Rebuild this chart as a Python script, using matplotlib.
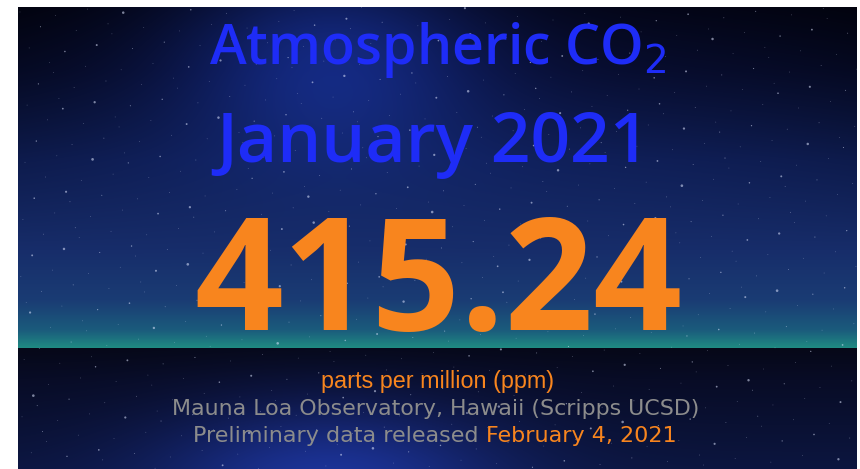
import numpy as np
import matplotlib
matplotlib.use("Agg")
import matplotlib.pyplot as plt
from matplotlib.colors import to_rgb

# ---- content ----
title_line1 = "Atmospheric CO$_2$"
title_line2 = "January 2021"
co2_value = "415.24"
unit_label = "parts per million (ppm)"
source_label = "Mauna Loa Observatory, Hawaii (Scripps UCSD)"
release_prefix = "Preliminary data released "
release_date = "February 4, 2021"

W, H = 860, 469
fig = plt.figure(figsize=(W / 100, H / 100), dpi=100, facecolor="white")
ax = fig.add_axes([0, 0, 1, 1])
ax.set_xlim(0, W)
ax.set_ylim(H, 0)
ax.axis("off")

# ---- background (decorative night sky) ----
x0, x1, y0, y1 = 18, 857, 7, 469
horizon = 348
bw, bh = x1 - x0, y1 - y0
yy, xx = np.mgrid[y0:y1, x0:x1].astype(float)

def grad(vals, stops, cols):
    cols = np.array([to_rgb(c) for c in cols])
    out = np.zeros(vals.shape + (3,))
    for k in range(3):
        out[..., k] = np.interp(vals, stops, cols[:, k])
    return out

sky = grad(yy, [7, 70, 160, 250, 300, 330, 347],
           ["#04061a", "#080e32", "#10205a", "#172d6a", "#1a3c74", "#1b5c7c", "#1f8a82"])
edge = np.clip(np.abs(xx - 430) / 430, 0, 1)
dark = (1 - 0.45 * edge ** 2 * np.clip((250 - yy) / 250, 0, 1))[..., None]
sky = sky * dark
glow = np.exp(-(((xx - 330) / 150) ** 2 + ((yy - 50) / 100) ** 2))[..., None]
sky = sky + glow * np.array(to_rgb("#1a3aa8")) * 0.5

ground = grad(yy, [348, 380, 469], ["#060818", "#080c26", "#0c1640"])
gglow = np.exp(-(((xx - 330) / 170) ** 2 + ((yy - 475) / 75) ** 2))[..., None]
ground = ground + gglow * np.array(to_rgb("#1a3090")) * 0.6

bg = np.where((yy < horizon)[..., None], sky, ground)
bg = np.clip(bg, 0, 1)
ax.imshow(bg, extent=[x0, x1, y1, y0], interpolation="bilinear", zorder=0)

# faint stars from a low-discrepancy sequence (texture only)
n = 700
i = np.arange(1, n + 1)
g = 1.32471795724474602596
sx = x0 + bw * ((0.5 + i / g) % 1)
sy = y0 + bh * ((0.5 + i / g ** 2) % 1)
sz = ((i * 0.61803398875) % 1) ** 8 * 3.5 + 0.25
ax.scatter(sx, sy, s=sz, c="#dfe6ff", alpha=0.55, linewidths=0, zorder=1)

# ---- text ----
blue = "#1e2cf7"
orange = "#f8851e"
gray = "#8c8c8c"

ax.text(438, 64, title_line1, color=blue, fontsize=40, family="Open Sans",
        weight="semibold", ha="center", va="baseline", zorder=3)
ax.text(433, 162, title_line2, color=blue, fontsize=50, family="Open Sans",
        weight="semibold", ha="center", va="baseline", zorder=3)
ax.text(438, 330, co2_value, color=orange, fontsize=112, family="Open Sans",
        weight="bold", ha="center", va="baseline", zorder=3)
ax.text(438, 388, unit_label, color=orange, fontsize=16.8, family="Liberation Sans",
        ha="center", va="baseline", zorder=3)
ax.text(436, 415, source_label, color=gray, fontsize=15.9, family="DejaVu Sans",
        ha="center", va="baseline", zorder=3)
t1 = ax.text(193, 442, release_prefix, color=gray, fontsize=16.0, family="DejaVu Sans",
             ha="left", va="baseline", zorder=3)
fig.canvas.draw()
bb = t1.get_window_extent()
xend = ax.transData.inverted().transform((bb.x1, bb.y0))[0]
ax.text(xend, 442, release_date, color=orange, fontsize=16.0, family="DejaVu Sans",
        ha="left", va="baseline", zorder=3)

fig.savefig("out.png", dpi=100, facecolor="white")
